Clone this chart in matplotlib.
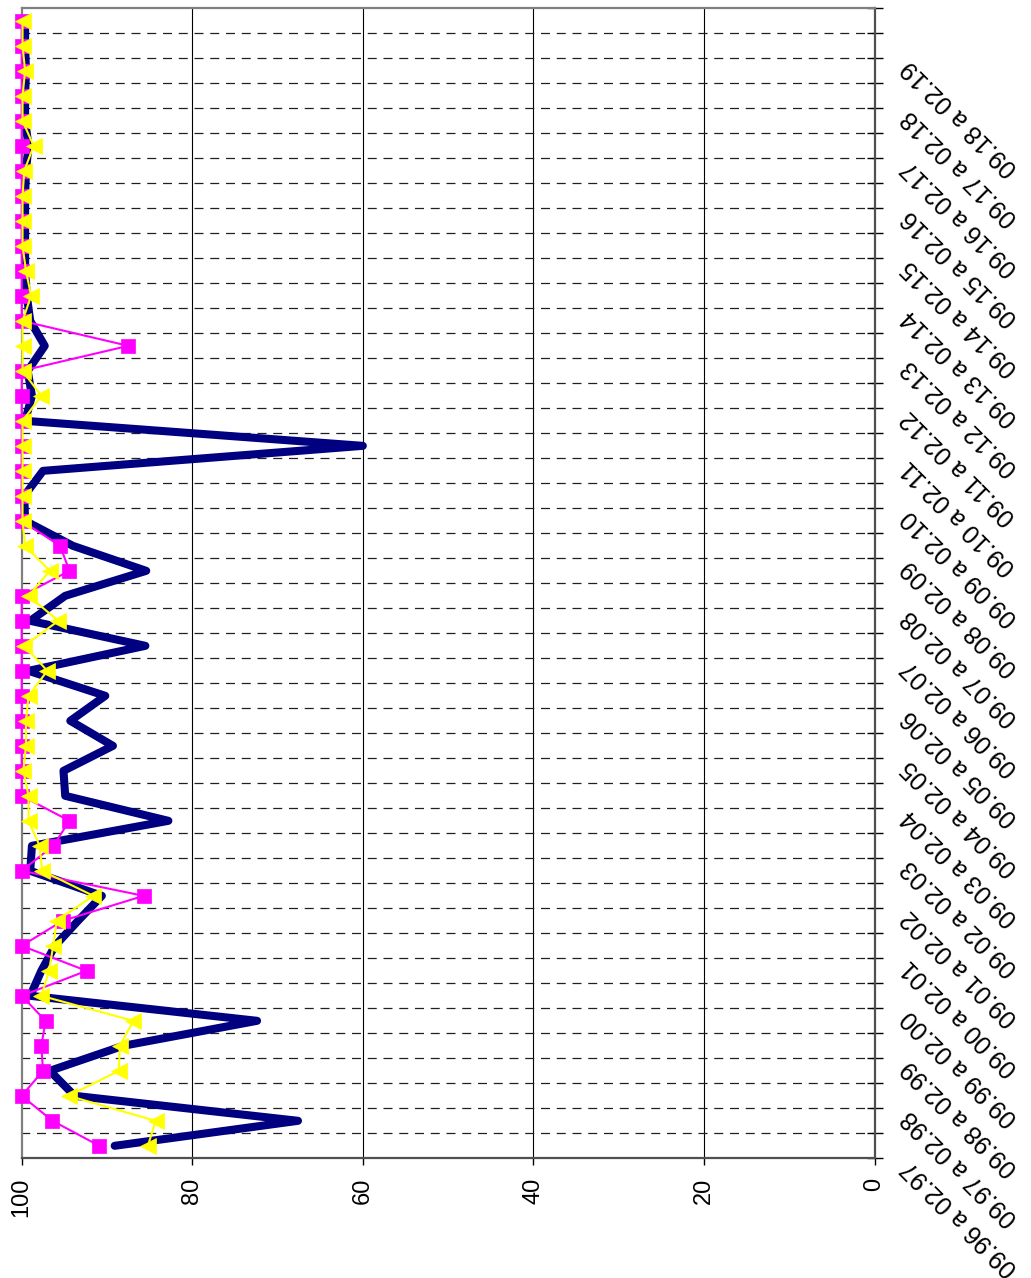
import matplotlib
matplotlib.use('Agg')
import matplotlib.pyplot as plt
from matplotlib.transforms import blended_transform_factory, ScaledTranslation

plt.rcParams['font.family'] = ['Liberation Sans', 'DejaVu Sans']

# ---- data (one value per half-year category, bottom to top) ----
navy = [89.1, 67.6, 93.8, 96.7, 88.1, 72.4, 99.0, 97.7, 96.1, 93.4,
        90.6, 99.0, 98.8, 82.8, 94.9, 95.1, 89.3, 94.3, 90.2, 99.2,
        85.5, 99.0, 94.9, 85.4, 94.0, 99.6, 99.7, 97.5, 60.0, 99.6,
        98.8, 99.3, 97.3, 99.0, 99.4, 99.6, 99.6, 99.6, 99.6, 99.5,
        99.2, 99.6, 99.6, 99.5, 99.6, 99.6]
magenta = [90.9, 96.4, 100, 97.5, 97.7, 97.2, 100, 92.4, 100, 95.2,
           85.7, 100, 96.3, 94.4, 100, 100, 100, 100, 100, 100,
           100, 100, 100, 94.4, 95.5, 100, 100, 100, 100, 100,
           100, 100, 87.5, 100, 100, 100, 100, 100, 100, 100,
           100, 100, 100, 100, 100, 100]
yellow = [85.2, 84.3, 94.5, 88.6, 88.5, 86.9, 97.7, 96.8, 96.3, 95.9,
          91.6, 97.6, 97.9, 99.2, 99.2, 99.8, 99.5, 99.5, 99.2, 97.0,
          99.7, 95.7, 99.2, 96.7, 99.6, 99.9, 99.9, 99.9, 99.9, 99.9,
          97.7, 99.9, 99.9, 99.9, 98.9, 99.5, 99.9, 99.9, 99.9, 99.7,
          98.6, 99.9, 99.9, 99.6, 99.9, 99.9]
category_labels = ["09.96 a 02.97", "09.97 a 02.98", "09.98 a 02.99", "09.99 a 02.00",
                   "09.00 a 02.01", "09.01 a 02.02", "09.02 a 02.03", "09.03 a 02.04",
                   "09.04 a 02.05", "09.05 a 02.06", "09.06 a 02.07", "09.07 a 02.08",
                   "09.08 a 02.09", "09.09 a 02.10", "09.10 a 02.11", "09.11 a 02.12",
                   "09.12 a 02.13", "09.13 a 02.14", "09.14 a 02.15", "09.15 a 02.16",
                   "09.16 a 02.17", "09.17 a 02.18", "09.18 a 02.19"]
value_ticks = [0, 20, 40, 60, 80, 100]

n = len(navy)
idx = list(range(n))

fig = plt.figure(figsize=(10.31, 12.78), dpi=100)
ax = fig.add_axes([0.02105, 0.09366, 0.8272, 0.8998])

ax.plot(navy, idx, color='#000080', lw=5.8, solid_capstyle='round',
        solid_joinstyle='round', zorder=3, clip_on=False)
ax.plot(magenta, idx, color='#FF00FF', lw=1.5, marker='s', ms=10.3,
        mfc='#FF00FF', mec='#FF00FF', mew=0.5, zorder=4, clip_on=False)
ax.plot(yellow, idx, color='#FFFF00', lw=1.5, marker='<', ms=12,
        mfc='#FFFF00', mec='#FFFF00', mew=0.5, zorder=5, clip_on=False)

ax.set_xlim(100, 0)
ax.set_ylim(-0.5, n - 0.5)

# value grid (solid) and category grid (dashed)
for v in value_ticks[1:-1]:
    ax.axvline(v, color='black', lw=0.8, zorder=1)
for k in range(1, n):
    ax.axhline(k - 0.5, color='#202020', lw=0.9, ls=(1, (7.2, 5.4)), zorder=1)

# value axis
ax.set_xticks(value_ticks)
ax.set_xticklabels([str(v) for v in value_ticks], rotation=90, fontsize=17)
ax.tick_params(axis='x', direction='out', length=5, width=1, pad=9)

# category axis on the right
ax.yaxis.tick_right()
ax.set_yticks([k - 0.5 for k in range(n + 1)])
ax.set_yticklabels([])
ax.tick_params(axis='y', direction='inout', length=11.5, width=1)

for s in ['left', 'top']:
    ax.spines[s].set_color('#808080')
    ax.spines[s].set_linewidth(1.6)
for s in ['bottom', 'right']:
    ax.spines[s].set_color('#505050')
    ax.spines[s].set_linewidth(1.6)

trans = blended_transform_factory(ax.transAxes, ax.transData) + \
    ScaledTranslation(0.31, -0.18, fig.dpi_scale_trans)
for j, lab in enumerate(category_labels):
    ax.text(1.0, 2 * j, lab, transform=trans, rotation=135,
            rotation_mode='anchor', ha='right', va='center', fontsize=18,
            clip_on=False)

fig.savefig('out.png', dpi=100)
